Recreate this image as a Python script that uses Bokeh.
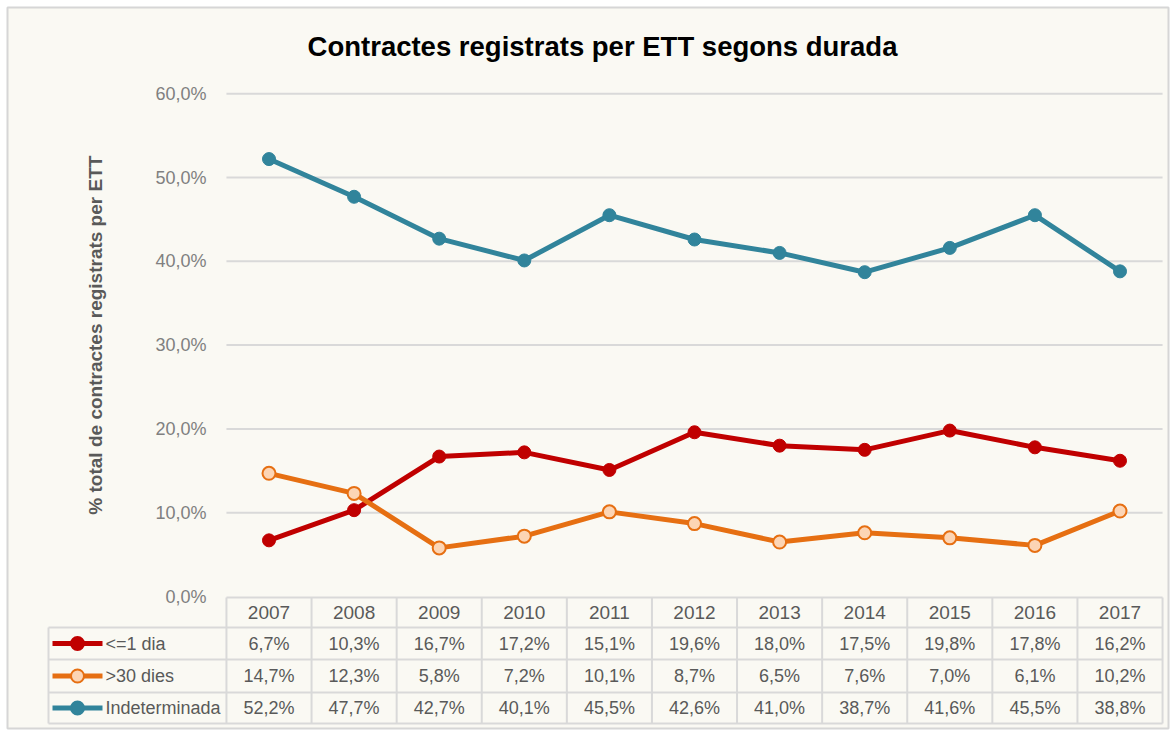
from bokeh.plotting import figure
from bokeh.models import Range1d
from bokeh.core.properties import value
from bokeh.embed import file_html
from bokeh.resources import INLINE
import math

# ---------------- data ----------------
years = ["2007", "2008", "2009", "2010", "2011", "2012", "2013", "2014", "2015", "2016", "2017"]
series_names = ["<=1 dia", ">30 dies", "Indeterminada"]
le1_dia = [6.7, 10.3, 16.7, 17.2, 15.1, 19.6, 18.0, 17.5, 19.8, 17.8, 16.2]
gt30_dies = [14.7, 12.3, 5.8, 7.2, 10.1, 8.7, 6.5, 7.6, 7.0, 6.1, 10.2]
indeterminada = [52.2, 47.7, 42.7, 40.1, 45.5, 42.6, 41.0, 38.7, 41.6, 45.5, 38.8]
y_ticks = [0, 10, 20, 30, 40, 50, 60]
title_text = "Contractes registrats per ETT segons durada"
y_title = "% total  de contractes registrats per ETT"

# ---------------- style / layout ----------------
FONT = "Liberation Sans"
BG = "#FAF9F3"
GRID = "#D9D9D9"
RED = "#C00000"
ORANGE = "#E66F12"
ORANGE_FILL = "#FCD5B5"
BLUE = "#31849B"
TXT = "#595959"
TICK = "#808080"

W, H = 1171, 731
BOX_L, BOX_T, BOX_R, BOX_B = 7, 7, 1168, 728   # chart box in screen px
X0, CW = 268.5, 85.1      # screen x of first category centre, column width
Y0, PPU = 596.0, 8.38     # screen y of 0 %, pixels per percent

def dx(sx):
    return (sx - X0) / CW

def dy(sy):
    return (Y0 - sy) / PPU

n = len(years)
xs = list(range(n))

p = figure(width=W, height=H, output_backend="svg", toolbar_location=None,
           x_range=Range1d(dx(BOX_L), dx(BOX_R)), y_range=Range1d(dy(BOX_B), dy(BOX_T)),
           x_axis_location=None, y_axis_location=None,
           min_border_left=BOX_L, min_border_top=BOX_T,
           min_border_right=W - BOX_R, min_border_bottom=H - BOX_B,
           background_fill_color=BG, border_fill_color="#FFFFFF",
           outline_line_color="#D6D6D6", outline_line_width=2)
p.grid.visible = False

# ---------------- title ----------------
p.text(x=[dx(602)], y=[dy(46)], text=[title_text], text_font=value(FONT),
       text_font_size="27.5px", text_font_style="bold", text_color="#000000",
       text_align="center", text_baseline="middle")

# ---------------- y axis (gridlines, tick labels, title) ----------------
left_plot = -0.5
right_plot = n - 0.5
grid_ticks = [t for t in y_ticks if t > 0]
p.segment(x0=[left_plot] * len(grid_ticks), x1=[right_plot] * len(grid_ticks),
          y0=grid_ticks, y1=grid_ticks, line_color=GRID, line_width=2)
p.text(x=[dx(206)] * len(y_ticks), y=y_ticks,
       text=[f"{t:.1f}%".replace(".", ",") for t in y_ticks],
       text_font=value(FONT), text_font_size="18px", text_color=TICK,
       text_align="right", text_baseline="middle")
p.text(x=[dx(95)], y=[dy(332)], text=[y_title], angle=math.pi / 2,
       text_font=value(FONT), text_font_size="19px", text_font_style="bold",
       text_color=TXT, text_align="center", text_baseline="middle")

# ---------------- lines ----------------
p.line(xs, le1_dia, line_color=RED, line_width=5)
p.scatter(xs, le1_dia, marker="circle", size=13, fill_color=RED, line_color=RED)
p.line(xs, gt30_dies, line_color=ORANGE, line_width=5)
p.scatter(xs, gt30_dies, marker="circle", size=13, fill_color=ORANGE_FILL,
          line_color=ORANGE, line_width=2)
p.line(xs, indeterminada, line_color=BLUE, line_width=5)
p.scatter(xs, indeterminada, marker="circle", size=13, fill_color=BLUE, line_color=BLUE)

# ---------------- data table ----------------
row_edges_px = [597, 627, 659, 692, 723]
row_edges = [dy(v) for v in row_edges_px]
leg_left = dx(48)
# horizontal lines
p.segment(x0=[left_plot], x1=[right_plot], y0=[row_edges[0]], y1=[row_edges[0]],
          line_color=GRID, line_width=2)
p.segment(x0=[leg_left] * 4, x1=[right_plot] * 4, y0=row_edges[1:], y1=row_edges[1:],
          line_color=GRID, line_width=2)
# vertical lines
col_edges = [i - 0.5 for i in range(n + 1)]
p.segment(x0=col_edges, x1=col_edges, y0=[row_edges[0]] * len(col_edges),
          y1=[row_edges[-1]] * len(col_edges), line_color=GRID, line_width=2)
p.segment(x0=[leg_left], x1=[leg_left], y0=[row_edges[1]], y1=[row_edges[-1]],
          line_color=GRID, line_width=2)

centers = [(row_edges[i] + row_edges[i + 1]) / 2 for i in range(4)]
p.text(x=xs, y=[centers[0]] * n, text=years, text_font=value(FONT),
       text_font_size="19px", text_color=TXT, text_align="center", text_baseline="middle")

def fmt(v):
    return f"{v:.1f}%".replace(".", ",")

rows = [(le1_dia, RED, RED), (gt30_dies, ORANGE, ORANGE_FILL), (indeterminada, BLUE, BLUE)]
for r, (vals, col, fill) in enumerate(rows):
    cy = centers[r + 1]
    p.text(x=xs, y=[cy] * n, text=[fmt(v) for v in vals], text_font=value(FONT),
           text_font_size="18px", text_color=TXT, text_align="center",
           text_baseline="middle")
    p.segment(x0=[dx(52)], x1=[dx(102)], y0=[cy], y1=[cy], line_color=col, line_width=5)
    p.scatter([dx(77)], [cy], marker="circle", size=13, fill_color=fill, line_color=col,
              line_width=2)
    p.text(x=[dx(105)], y=[cy], text=[series_names[r]], text_font=value(FONT),
           text_font_size="18px", text_color=TXT, text_align="left",
           text_baseline="middle")

open("out.html", "w").write(file_html(p, INLINE))
